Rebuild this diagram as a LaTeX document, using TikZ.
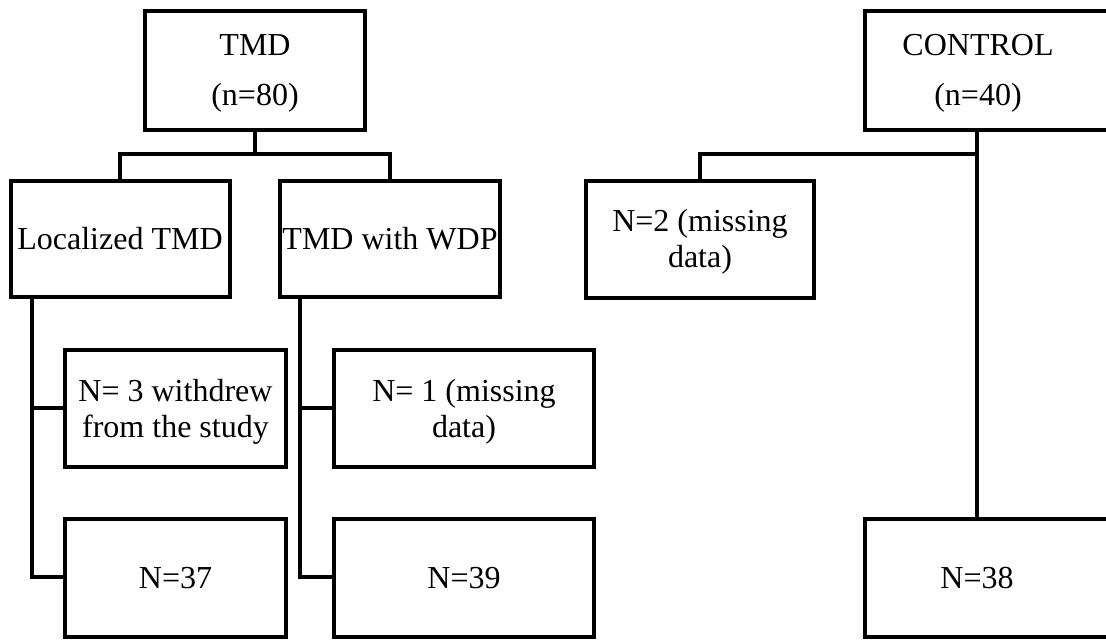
\documentclass[tikz,border=0pt]{standalone}
\usepackage{fontspec}
\setmainfont{Liberation Serif}
\begin{document}
\begin{tikzpicture}[x=1pt,y=-1pt,
  box/.style={draw,line width=4pt,rectangle,inner sep=0pt},
  txt/.style={inner sep=0pt,align=center,font=\fontsize{32}{36}\selectfont},
  conn/.style={line width=4pt,line join=miter}]
\useasboundingbox (0,0) rectangle (1106,640);
\clip (0,0) rectangle (1106,640);
% TMD branch
\node[box,minimum width=220pt,minimum height=119pt] (tmd) at (255,70) {};
\node[txt,yshift=-3pt] (tmdt) at (tmd.center) {TMD\\[14pt](n=80)};
\node[box,minimum width=219pt,minimum height=116pt] (loc) at (120,239) {};
\node[txt] (loct) at (loc.center) {Localized TMD};
\node[box,minimum width=220pt,minimum height=116pt] (wdp) at (390,239) {};
\node[txt] (wdpt) at (wdp.center) {TMD with WDP};
\node[box,minimum width=221pt,minimum height=117pt] (wd) at (175.5,408.5) {};
\node[txt,yshift=-3pt] (wdt) at (wd.center) {N= 3 withdrew\\from the study};
\node[box,minimum width=221pt,minimum height=118pt] (n37) at (175.5,578) {};
\node[txt] (n37t) at (n37.center) {N=37};
\node[box,minimum width=260pt,minimum height=117pt] (n1) at (464,408.5) {};
\node[txt,yshift=-3pt] (n1t) at (n1.center) {N= 1 (missing\\data)};
\node[box,minimum width=260pt,minimum height=118pt] (n39) at (464,578) {};
\node[txt] (n39t) at (n39.center) {N=39};
% Control branch
\node[box,minimum width=300pt,minimum height=119pt,anchor=west] (ctrl) at (863,70) {};
\node[txt,yshift=-3pt] (ctrltxt) at (978,70) {CONTROL\\[14pt](n=40)};
\node[box,minimum width=228pt,minimum height=117pt] (n2) at (700,239.5) {};
\node[txt,yshift=-2pt] (n2t) at (n2.center) {N=2 (missing\\data)};
\node[box,minimum width=300pt,minimum height=118pt,anchor=west] (n38) at (863,578) {};
\node[txt] (n38txt) at (977,578) {N=38};
% connectors
\coordinate (tj) at (255,154);
\draw[conn] (tmd.south) -- (tj);
\draw[conn] (loc.north) |- (tj) -| (wdp.north);
\draw[conn] (loc.south -| 32,0) -- (32,577) -- (n37.west |- 0,577);
\draw[conn] (32,408) -- (wd.west |- 0,408);
\draw[conn] (wdp.south -| 300,0) -- (300,577) -- (n39.west |- 0,577);
\draw[conn] (300,408) -- (n1.west |- 0,408);
\coordinate (cj) at (977,154);
\draw[conn] (ctrl.south -| 977,0) -- (n38.north -| 977,0);
\draw[conn] (n2.north) |- (cj);
\end{tikzpicture}
\end{document}
